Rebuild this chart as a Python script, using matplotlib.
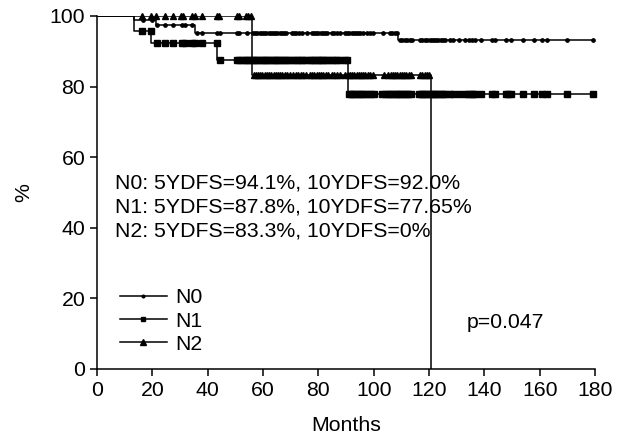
import numpy as np
import matplotlib
matplotlib.use("Agg")
import matplotlib.pyplot as plt
from matplotlib.lines import Line2D

plt.rcParams['font.family'] = ['Liberation Sans', 'DejaVu Sans']

# step curves: event times (months) and survival (%)
n0_times = [0, 13.4, 21.3, 35.5, 108.8, 179.2]
n0_surv = [100, 99.0, 97.4, 95.3, 93.2, 93.2]
n1_times = [0, 13.4, 19.6, 43.5, 90.6, 179.2]
n1_surv = [100, 95.8, 92.3, 87.5, 77.8, 77.8]
n2_times = [0, 56.0, 120.7]
n2_surv = [100, 83.3, 0]

# censored observations (months)
n0_censor = [16.7, 19.8, 21.8, 24.6, 27.6, 30.6, 31.8, 34.2,
             36.0, 37.8, 43.3, 44.5, 50.5, 51.4, 54.1, 56.4, 57.2, 58.0, 58.8, 59.6,
             60.4, 61.2, 62.0, 62.8, 63.6, 64.4, 65.2, 66.0, 66.8, 67.6, 68.4, 70.4,
             71.2, 72.0, 73.0, 74.0, 75.8, 77.6, 78.4, 79.2, 80.0, 80.8, 81.6, 82.4,
             83.2, 84.8, 85.8, 86.8, 87.8, 89.6, 90.4, 91.2, 92.0, 92.8, 93.6, 94.4,
             95.2, 96.1, 97.5, 98.6, 99.9, 103.5, 105.9, 106.8, 107.7, 108.5,
             109.4, 110.3, 111.2, 112.1, 113.0, 113.7, 116.7, 117.5, 118.4, 119.3,
             120.2, 121.0, 121.8, 122.6, 123.4, 124.2, 125.0, 125.8, 127.6, 128.8,
             131.0, 133.0, 134.6, 135.4, 136.6, 138.8, 142.6, 143.8, 147.8, 149.5,
             153.8, 157.9, 160.7, 162.7, 169.7, 179.2]
n1_censor = [16.1, 19.5, 21.6, 24.6, 27.6, 30.6, 31.8, 34.2, 35.4, 37.8, 43.3,
             44.5, 50.5, 51.4, 52.3, 53.5, 54.3, 55.1, 55.9, 56.7, 57.5, 58.3, 59.1,
             59.9, 60.7, 61.5, 62.3, 63.1, 63.9, 64.7, 65.5, 66.3, 67.1, 67.9, 68.7,
             69.8, 70.8, 71.8, 72.8, 73.8, 74.6, 75.6, 77.0, 77.8, 78.6, 79.4, 80.2,
             81.0, 81.8, 82.6, 83.5, 84.8, 85.8, 86.8, 87.8, 89.8, 90.5,
             91.0, 91.8, 92.6, 93.4, 94.2, 95.0, 95.8, 97.0, 98.0, 99.0, 100.2,
             102.9, 104.2, 105.2, 106.0, 106.8, 107.6, 108.4, 109.2, 110.0, 110.8,
             111.6, 112.4, 113.4, 116.2, 117.0, 117.8, 118.6, 119.4, 120.2, 121.0,
             121.8, 122.6, 123.4, 124.2, 125.0, 125.8, 127.6, 128.6, 131.0, 133.0,
             134.0, 135.0, 136.0, 136.8, 138.8, 142.6, 143.8, 147.8, 148.6, 149.5,
             153.8, 157.9, 160.7, 162.7, 169.7, 179.2]
n2_censor = [16.1, 19.4, 21.5, 24.6, 27.3, 30.2, 31.2, 34.2, 35.4, 37.8, 43.3,
             44.2, 50.5, 51.4, 53.8, 54.6, 55.5,
             56.6, 57.4, 58.2, 59.0, 59.8, 60.6, 61.4, 62.2, 63.0, 63.8, 64.6, 65.4,
             66.2, 67.0, 67.8, 68.6, 69.8, 70.8, 71.8, 72.8, 73.8, 74.6, 75.6, 77.0,
             77.8, 78.6, 79.4, 80.2, 81.0, 81.8, 82.6, 83.5, 84.8, 85.8, 86.8, 87.8,
             89.8, 90.6, 91.4, 92.2, 93.0, 93.8, 94.6, 95.4, 96.2, 97.0, 97.8, 98.8,
             99.7, 103.8, 105.0, 106.2, 107.0, 107.8, 108.6, 109.4, 110.2, 111.0,
             111.8, 112.6, 113.5, 116.8, 117.6, 118.4, 119.2, 120.0]

groups = ['N0', 'N1', 'N2']
stats_lines = ['N0: 5YDFS=94.1%, 10YDFS=92.0%',
               'N1: 5YDFS=87.8%, 10YDFS=77.65%',
               'N2: 5YDFS=83.3%, 10YDFS=0%']
p_text = 'p=0.047'


def surv_at(t, times, surv):
    idx = np.searchsorted(times, t, side='right') - 1
    return np.asarray(surv)[idx]


FS = 15.3

fig = plt.figure(figsize=(6.27, 4.37), dpi=100)
ax = fig.add_axes([0.1547, 0.1563, 0.7943, 0.8071])

curves = [(n0_times, n0_surv, n0_censor, 'o', 2.4),
          (n1_times, n1_surv, n1_censor, 's', 4.0),
          (n2_times, n2_surv, n2_censor, '^', 4.6)]

handles = []
for name, (t, s, c, m, ms) in zip(groups, curves):
    ax.step(t, s, where='post', color='black', lw=1.1)
    c = np.array(c)
    ax.plot(c, surv_at(c, t, s), ls='none', marker=m, ms=ms, color='black',
            clip_on=False)
    handles.append(Line2D([], [], color='black', lw=1.1, marker=m, ms=ms * 0.8))

ax.set_xlim(0, 180)
ax.set_ylim(0, 100)
ax.set_xticks(range(0, 181, 20))
ax.set_yticks(range(0, 101, 20))
ax.spines['top'].set_visible(False)
ax.spines['right'].set_visible(False)
for sp in ax.spines.values():
    sp.set_linewidth(1.1)
ax.tick_params(direction='out', length=5, width=1.1, labelsize=FS)
ax.set_xlabel('Months', fontsize=FS, labelpad=12)
ax.set_ylabel('%', fontsize=FS, labelpad=12)

for i, line in enumerate(stats_lines):
    ax.text(6.5, 52.6 - i * 6.8, line, fontsize=FS, va='center', ha='left')

ax.text(133.7, 13.2, p_text, fontsize=FS, va='center', ha='left')

ax.legend(handles, groups, loc='upper left', bbox_to_anchor=(0.046, 0.228),
          frameon=False, fontsize=FS, handlelength=2.2, handletextpad=0.4,
          labelspacing=0.2, borderpad=0, borderaxespad=0, numpoints=1)

fig.savefig('out.png', dpi=100)
